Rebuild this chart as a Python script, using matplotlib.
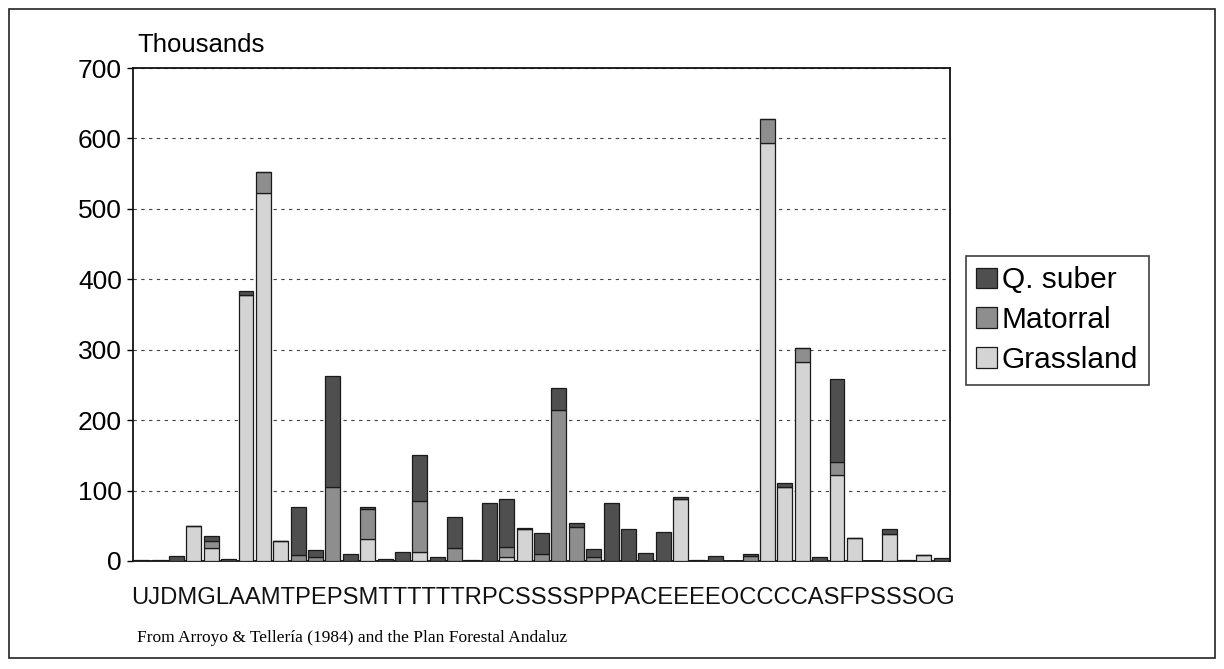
import matplotlib
matplotlib.use("Agg")
import matplotlib.pyplot as plt
from matplotlib.patches import Rectangle, Patch

# ---- data (thousands of ha) ----
n_bars = 47
grassland = [0, 0, 0, 50, 19, 0, 377, 522, 28, 0, 0, 0, 0, 31, 0, 0, 13, 0, 0, 0,
             0, 6, 45, 0, 0, 0, 0, 0, 0, 0, 0, 88, 0, 0, 0, 0, 593, 105, 282, 0,
             122, 33, 0, 38, 0, 9, 0]
matorral = [0, 0, 0, 0, 10, 0, 0, 30, 0, 8, 5, 105, 0, 43, 0, 0, 72, 0, 18, 0,
            0, 14, 0, 10, 214, 48, 5, 0, 0, 0, 0, 0, 0, 0, 0, 7, 34, 0, 21, 0,
            18, 0, 0, 0, 0, 0, 0]
q_suber = [1, 1, 7, 0, 6, 3, 7, 0, 0, 68, 10, 158, 10, 2, 3, 13, 65, 5, 45, 1,
           82, 68, 2, 30, 31, 6, 12, 82, 45, 11, 41, 3, 1, 7, 0, 3, 0, 6, 0, 6,
           119, 0, 0, 7, 1, 0, 4]
x_letters = list("UJDMGLAAMTPEPSMTTTTTTRPCSSSSPPPACEEEEOCCCCASFPSSSOG")
y_ticks = [0, 100, 200, 300, 400, 500, 600, 700]
series_names = ["Q. suber", "Matorral", "Grassland"]
colors = {"Q. suber": "#4f4f4f", "Matorral": "#8e8e8e", "Grassland": "#d4d4d4"}

W, H = 1224, 669
fig = plt.figure(figsize=(W / 100, H / 100), dpi=100)
fig.patch.set_facecolor("white")

ax = fig.add_axes([133 / W, 1 - 561 / H, (950 - 133) / W, (561 - 68) / H])

xs = list(range(n_bars))
bw = 0.86
edge = dict(edgecolor="#1a1a1a", linewidth=0.9)
ax.bar(xs, grassland, bw, color=colors["Grassland"], zorder=3, **edge)
ax.bar(xs, matorral, bw, bottom=grassland, color=colors["Matorral"], zorder=3, **edge)
bottom2 = [g + m for g, m in zip(grassland, matorral)]
ax.bar(xs, q_suber, bw, bottom=bottom2, color=colors["Q. suber"], zorder=3, **edge)

ax.set_xlim(-0.5, n_bars - 0.5)
ax.set_ylim(0, 700)
ax.set_yticks(y_ticks)
ax.set_yticklabels([str(v) for v in y_ticks], fontsize=19, family="Liberation Sans")
ax.set_xticks([])
ax.tick_params(axis="y", length=4, width=1, pad=4, direction="out")
for s in ax.spines.values():
    s.set_linewidth(1.3)
    s.set_color("#111111")
ax.yaxis.grid(True, linestyle=(0, (3, 4)), color="#444444", linewidth=0.8, zorder=0)
ax.set_axisbelow(True)

# category letters as one run of text under the axis
label_run = "".join(x_letters)
txt = fig.text(543 / W, 1 - 604 / H, label_run, ha="center", va="baseline",
               fontsize=24, family="Liberation Sans", color="#111111")
fig.canvas.draw()
wpx = txt.get_window_extent().width
target = 955 - 131
txt.set_fontsize(24 * target / wpx)

fig.text(137 / W, 1 - 52 / H, "Thousands", fontsize=18.5, family="Liberation Sans",
         ha="left", va="baseline")

handles = [Patch(facecolor=colors[nm], edgecolor="#1a1a1a", linewidth=0.9) for nm in series_names]
leg = fig.legend(handles, series_names, loc="upper left",
                 bbox_to_anchor=(966 / W, 1 - 256 / H),
                 prop={"family": "Liberation Sans", "size": 21.5},
                 frameon=True, fancybox=False, handlelength=0.7, handleheight=0.7,
                 handletextpad=0.15, borderpad=0.35, labelspacing=0.4, borderaxespad=0)
leg.get_frame().set_edgecolor("#111111")
leg.get_frame().set_linewidth(1.2)

fig.text(137 / W, 1 - 642 / H, "From Arroyo & Tellería (1984) and the Plan Forestal Andaluz",
         fontsize=12.5, family="Liberation Serif", ha="left", va="baseline")

fig.add_artist(Rectangle((9 / W, 1 - 658 / H), (1215 - 9) / W, (658 - 9) / H,
                         transform=fig.transFigure, fill=False, edgecolor="#222222",
                         linewidth=1.2))

fig.savefig("out.png", dpi=100)
